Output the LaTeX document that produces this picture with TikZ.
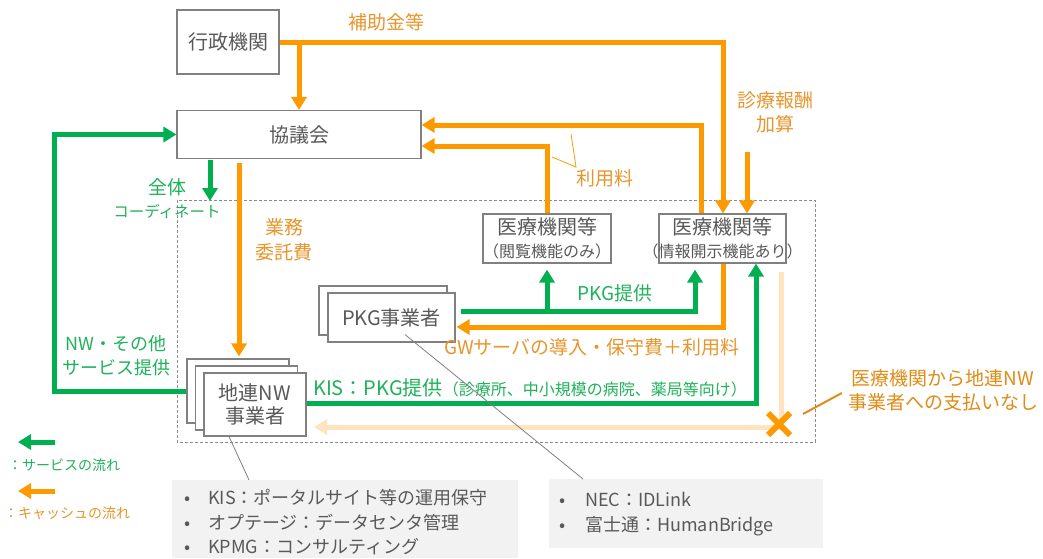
\documentclass[tikz,border=0pt]{standalone}
\usepackage{fontspec}
\setmainfont{Noto Sans CJK JP}
\usetikzlibrary{arrows.meta,calc}
\definecolor{orangeL}{HTML}{FF9900}
\definecolor{orangeT}{HTML}{E8952C}
\definecolor{orangeD}{HTML}{E08C16}
\definecolor{greenL}{HTML}{00B050}
\definecolor{greenT}{HTML}{1FB25A}
\definecolor{lightO}{HTML}{FFE4BF}
\definecolor{boxgray}{HTML}{808080}
\definecolor{textgray}{HTML}{595959}
\definecolor{fillgray}{HTML}{F2F2F2}
\definecolor{dashgray}{HTML}{8C8C8C}
\newcommand\bul[1]{\makebox[#1][l]{•}}
\begin{document}
\begin{tikzpicture}[x=1pt,y=-1pt,
  box/.style={draw=boxgray,line width=1.1pt,fill=white,text=textgray,font=\fontsize{20}{23}\selectfont,inner sep=0pt,align=center},
  oln/.style={draw=orangeL,line width=5pt},
  oarr/.style={oln,-{Triangle[width=15pt,length=13pt]}},
  gln/.style={draw=greenL,line width=5pt},
  garr/.style={gln,-{Triangle[width=15pt,length=13pt]}},
  lln/.style={draw=lightO,line width=5pt},
  larr/.style={lln,-{Triangle[width=15pt,length=13pt]}},
  olbl/.style={text=orangeT,inner sep=0pt,align=center,font=\fontsize{19}{24}\selectfont},
  glbl/.style={text=greenT,inner sep=0pt,align=center,font=\fontsize{19}{24}\selectfont},
  leader/.style={draw=boxgray,line width=0.8pt},
  info/.style={fill=fillgray,inner sep=0pt,anchor=north west},
  infotext/.style={anchor=west,text=textgray,align=left,inner sep=0pt},
]
\useasboundingbox (0,0) rectangle (1043,558);
\fill[white] (0,0) rectangle (1043,558);

% dashed region
\draw[dashgray,line width=0.8pt,dash pattern=on 3pt off 2pt] (177,200) rectangle (815,442);

% boxes
\node[box,minimum width=102pt,minimum height=64pt] (gyosei) at (228,42) {行政機関};
\node[box,minimum width=244pt,minimum height=48pt] (kyogi) at (299,134.5) {協議会};
\node[box,minimum width=126pt,minimum height=49pt] (medL) at (547,238.5) {医療機関等\\{\fontsize{16}{20}\selectfont （閲覧機能のみ）}};
\node[box,minimum width=127pt,minimum height=49pt] (medR) at (722.5,238.5) {医療機関等\\{\fontsize{16}{20}\selectfont\makebox[0pt][c]{（情報開示機能あり）}}};
\node[box,minimum width=128pt,minimum height=49pt] (pkgB) at (383,310.5) {};
\node[box,minimum width=127pt,minimum height=49pt] (pkg) at (391.5,317.5) {PKG事業者};
\node[box,minimum width=102pt,minimum height=64pt] (chirenB) at (238,391) {};
\node[box,minimum width=102pt,minimum height=64pt] (chirenM) at (246.5,398) {};
\node[box,minimum width=102pt,minimum height=63pt] (chiren) at (255,404.5) {地連NW\\事業者};

% coordinates for free ends
\coordinate (kasan) at (747,152);
\coordinate (zentaiEnd) at (210,201);
\coordinate (pkgG) at ($(pkg.east)+(5,-6)$);
\coordinate (lt) at (781,272);
\coordinate (lend) at (314,427);
\coordinate (xmark) at (779,424);

% orange cash flows
\draw[oarr] (gyosei.east) -| ($(medR.north)+(0.5,0)$);
\draw[oarr] (gyosei.east -| kyogi.north) -- (kyogi.north);
\draw[oarr] ($(medR.north)+(-21.5,0)$) |- ($(kyogi.east)+(0,-9.5)$);
\draw[oarr] (medL.north) |- ($(kyogi.east)+(0,11.5)$);
\draw[oarr] (kasan) -- (kasan |- medR.north);
\draw[oarr] ($(kyogi.south -| chirenB.north)+(1,3.5)$) -- ($(chirenB.north)+(1,-2)$);
\draw[oarr] ($(medR.south)+(0.5,0)$) |- ($(pkg.east)+(1,9.5)$);

% green service flows
\draw[garr] ($(kyogi.south)+(-89,1)$) -- (zentaiEnd);
\draw[garr] (chirenB.west) -- ++(-132,0) |- (kyogi.west);
\draw[garr] (pkgG) -| ($(medR.south)+(-27.5,6)$);
\draw[garr] (pkgG -| medL.south) -- ($(medL.south)+(0,6)$);
\draw[garr] ($(chiren.east)+(0,-1.5)$) -| ($(medR.south)+(33.5,0)$);

% no payment flow
\draw[larr] (lt) |- (lend);
\draw[orangeL,line width=6pt] ($(xmark)+(-11,-11)$) -- ($(xmark)+(11,11)$);
\draw[orangeL,line width=6pt] ($(xmark)+(-11,11)$) -- ($(xmark)+(11,-11)$);

% labels
\node[olbl] (hojo) at (386,22) {補助金等};
\node[olbl] (riyo) at (605,178) {利用料};
\draw[orangeL,line width=0.8pt] (571,134) -- (576,167) -- (552,157);
\node[olbl] (kasanL) at (775,112) {診療報酬\\加算};
\node[glbl] (zentai) at (167,187) {全体};
\node[glbl,font=\fontsize{15.5}{18}\selectfont] (coord) at (167,211) {コーディネート};
\node[olbl,font=\fontsize{19}{25}\selectfont] (gyomu) at (284,239.5) {業務\\委託費};
\node[glbl,font=\fontsize{18}{24}\selectfont] (nwlbl) at (116,356) {NW・その他\\サービス提供};
\node[glbl] (pkgteikyo) at (615,293) {PKG提供};
\node[olbl] (gwlbl) at (592,347) {GWサーバの導入・保守費＋利用料};
\node[glbl,anchor=west,font=\fontsize{20}{24}\selectfont] (kislbl) at (313,388) {KIS：PKG提供{\fontsize{16}{20}\selectfont （診療所、中小規模の病院、薬局等向け）}};
\node[olbl,text=orangeD] (callout) at (943,390) {医療機関から地連NW\\事業者への支払いなし};
\draw[orangeD,line width=2pt] ($(xmark)+(24,-10)$) -- ($(callout.west)+(-6,3)$);

% legend
\coordinate (lg1s) at (55,442);
\coordinate (lg1e) at (18,442);
\coordinate (lg2s) at (55,491);
\coordinate (lg2e) at (18,491);
\draw[garr] (lg1s) -- (lg1e);
\node[glbl,anchor=west,font=\fontsize{14}{16}\selectfont] (lgt1) at (8,465) {：サービスの流れ};
\draw[oarr] (lg2s) -- (lg2e);
\node[olbl,anchor=west,font=\fontsize{14}{16}\selectfont] (lgt2) at (4,513) {：キャッシュの流れ};

% info boxes
\node[info,minimum width=346pt,minimum height=78pt] (infoL) at (172,480) {};
\node[info,minimum width=274pt,minimum height=69pt] (infoR) at (549,479) {};
\node[infotext,font=\fontsize{18}{24.5}\selectfont] (infoLt) at (184,522.5) {\bul{24pt}KIS：ポータルサイト等の運用保守\\\bul{24pt}オプテージ：データセンタ管理\\\bul{24pt}KPMG：コンサルティング};
\node[infotext,font=\fontsize{18}{25}\selectfont] (infoRt) at (559,514.5) {\bul{26pt}NEC：IDLink\\\bul{26pt}富士通：HumanBridge};
\draw[leader] ($(chiren.south)+(-26,0)$) -- ($(infoL.north west)+(77,0)$);
\draw[leader] ($(pkg.south)+(13.5,-8)$) -- ($(infoR.north west)+(34,0)$);
\end{tikzpicture}
\end{document}
